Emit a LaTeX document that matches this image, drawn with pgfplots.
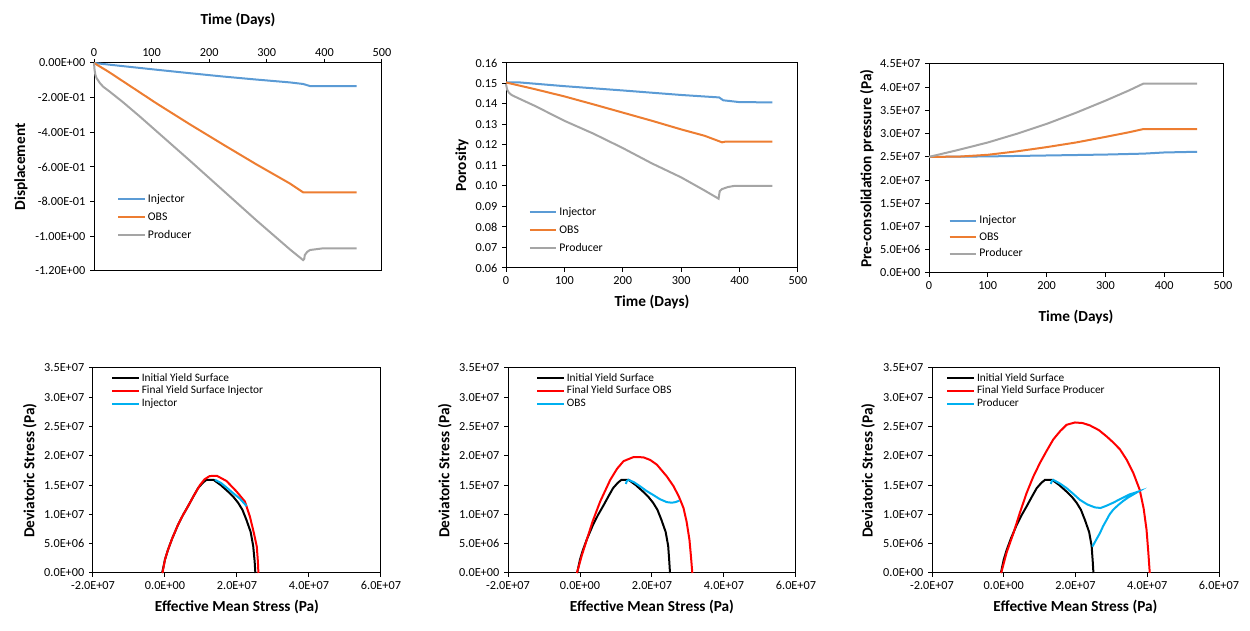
\documentclass[border=0pt]{standalone}
\usepackage{fontspec}
\setmainfont{Carlito}
\usepackage{pgfplots}
\pgfplotsset{compat=1.18}
\definecolor{cblue}{RGB}{91,155,213}
\definecolor{corange}{RGB}{237,125,49}
\definecolor{cgray}{RGB}{165,165,165}
\definecolor{cred}{RGB}{255,0,0}
\definecolor{clblue}{RGB}{0,176,240}
\pgfplotsset{
  base/.style={scale only axis, anchor=south west, axis line style={line width=0.75pt},
    tick style={black, line width=0.75pt}, major tick length=3pt, tick align=outside,
    scaled ticks=false, clip=false,
    tick label style={font=\fontsize{9.2}{11}\selectfont},
    label style={font=\fontsize{11.5}{13}\selectfont\bfseries},
    xlabel style={anchor=center}, ylabel style={anchor=center},
    legend cell align=left,
    legend image code/.code={\draw[##1] (0pt,0pt) -- (20pt,0pt);},
    every axis plot/.append style={line width=1.5pt, no marks},
  },
  toplegend/.style={legend style={draw=none, fill=none, inner sep=0pt, anchor=north west,
    font=\fontsize{8.8}{10}\selectfont,
    nodes={inner xsep=1.5pt, inner ysep=0pt, text height=7pt, text depth=2pt}, row sep=#1}},
  botlegend/.style={legend style={draw=none, fill=none, inner sep=0pt, anchor=north west,
    font=\fontsize{8.5}{10}\selectfont,
    nodes={inner xsep=1.5pt, inner ysep=0pt, text height=6.5pt, text depth=2pt}, row sep=0.9pt}},
  timeaxis/.style={xmin=0, xmax=500, xtick={0,100,200,300,400,500},
    xticklabels={0,100,200,300,400,500}},
  stressaxis/.style={xmin=-2e7, xmax=6e7, ymin=0, ymax=3.5e7,
    xtick={-2e7,0,2e7,4e7,6e7}, xticklabels={-2.0E+07,0.0E+00,2.0E+07,4.0E+07,6.0E+07},
    ytick={0,5e6,1e7,1.5e7,2e7,2.5e7,3e7,3.5e7},
    yticklabels={0.0E+00,5.0E+06,1.0E+07,1.5E+07,2.0E+07,2.5E+07,3.0E+07,3.5E+07},
    xtick pos=left, ytick pos=left,
    xlabel={Effective Mean Stress (Pa)}, ylabel={Deviatoric Stress (Pa)},
    xlabel style={at={(axis description cs:0.5,-0.166)}}},
}
\begin{document}
\begin{tikzpicture}
\useasboundingbox (0,0) rectangle (937.5pt,473.25pt);
% ---------------- Panel 1: Displacement
\begin{axis}[base, timeaxis, at={(70.5pt,270pt)}, width=216pt, height=156pt,
  ymin=-1.2, ymax=0, xtick pos=right, xticklabel pos=right, ytick pos=left,
  xticklabel style={yshift=-2pt},
  ytick={-1.2,-1.0,-0.8,-0.6,-0.4,-0.2,0},
  yticklabels={-1.20E+00,-1.00E+00,-8.00E-01,-6.00E-01,-4.00E-01,-2.00E-01,0.00E+00},
  xlabel={Time (Days)}, ylabel={Displacement},
  xlabel style={at={(axis description cs:0.5,1.207)}},
  ylabel style={at={(axis description cs:-0.2535,0.5)}},
  toplegend=4.5pt, legend style={at={(axis description cs:0.08,0.375)}}]
\addplot[cblue] coordinates {(0,0) (50,-0.018) (109,-0.039) (167,-0.059) (224,-0.078) (280,-0.095) (340,-0.112) (363,-0.121) (375,-0.133) (456,-0.133)};
\addplot[corange] coordinates {(0,0) (10,-0.02) (25,-0.05) (51,-0.107) (109,-0.234) (167,-0.355) (224,-0.47) (282,-0.585) (340,-0.695) (363,-0.746) (456,-0.746)};
\addplot[cgray] coordinates {(0,0) (1,-0.04) (2.5,-0.07) (4.6,-0.088) (10,-0.115) (16,-0.137) (28,-0.167) (51,-0.228) (80,-0.31) (109,-0.395) (167,-0.565) (224,-0.735) (282,-0.908) (340,-1.075) (363,-1.137) (365,-1.13) (366,-1.108) (370,-1.09) (375,-1.079) (398,-1.069) (456,-1.069)};
\legend{Injector,OBS,Producer}
\end{axis}
% ---------------- Panel 2: Porosity
\begin{axis}[base, timeaxis, at={(379.5pt,272.25pt)}, width=219pt, height=153.75pt,
  ymin=0.06, ymax=0.16, xtick pos=left, ytick pos=left,
  ytick={0.06,0.07,0.08,0.09,0.10,0.11,0.12,0.13,0.14,0.15,0.16},
  yticklabels={0.06,0.07,0.08,0.09,0.10,0.11,0.12,0.13,0.14,0.15,0.16},
  xlabel={Time (Days)}, ylabel={Porosity},
  xlabel style={at={(axis description cs:0.5,-0.166)}},
  ylabel style={at={(axis description cs:-0.151,0.5)}},
  toplegend=4.5pt, legend style={at={(axis description cs:0.077,0.305)}}]
\addplot[cblue] coordinates {(0,0.1506) (20,0.1506) (100,0.1487) (200,0.1466) (300,0.1444) (365,0.1432) (372,0.1418) (385,0.1414) (400,0.1409) (456,0.1408)};
\addplot[corange] coordinates {(0,0.1505) (50,0.1472) (100,0.1437) (150,0.1398) (200,0.1358) (250,0.1318) (300,0.1276) (340,0.1245) (370,0.1213) (375,0.1216) (456,0.1216)};
\addplot[cgray] coordinates {(0,0.1497) (2,0.147) (5,0.1455) (10,0.1443) (25,0.1423) (50,0.139) (100,0.1318) (150,0.1255) (200,0.1185) (250,0.111) (300,0.1042) (340,0.0978) (364,0.0938) (366,0.0975) (370,0.0985) (380,0.0995) (390,0.1) (456,0.1)};
\legend{Injector,OBS,Producer}
\end{axis}
% ---------------- Panel 3: Pre-consolidation pressure
\begin{axis}[base, timeaxis, at={(696.75pt,268.5pt)}, width=220.5pt, height=156.75pt,
  ymin=0, ymax=4.5e7, xtick pos=left, ytick pos=left,
  ytick={0,5e6,1e7,1.5e7,2e7,2.5e7,3e7,3.5e7,4e7,4.5e7},
  yticklabels={0.0E+00,5.0E+06,1.0E+07,1.5E+07,2.0E+07,2.5E+07,3.0E+07,3.5E+07,4.0E+07,4.5E+07},
  xlabel={Time (Days)}, ylabel={Pre-consolidation pressure (Pa)},
  xlabel style={at={(axis description cs:0.5,-0.2105)}},
  ylabel style={at={(axis description cs:-0.211,0.5)}},
  toplegend=3.4pt, legend style={at={(axis description cs:0.066,0.281)}}]
\addplot[cblue] coordinates {(0,25.0e6) (100,25.1e6) (200,25.3e6) (300,25.5e6) (365,25.7e6) (400,25.95e6) (456,26.1e6)};
\addplot[corange] coordinates {(0,25.0e6) (50,25.05e6) (100,25.45e6) (150,26.2e6) (200,27.1e6) (250,28.1e6) (300,29.3e6) (340,30.3e6) (365,31.0e6) (456,31.0e6)};
\addplot[cgray] coordinates {(0,25.0e6) (50,26.5e6) (100,28.1e6) (150,30.0e6) (200,32.1e6) (250,34.5e6) (300,37.1e6) (340,39.3e6) (365,40.8e6) (456,40.8e6)};
\legend{Injector,OBS,Producer}
\end{axis}
% ---------------- Panel 4: Injector stress path
\begin{axis}[base, stressaxis, at={(69.75pt,43.5pt)}, width=216pt, height=153.75pt,
  ylabel style={at={(axis description cs:-0.219,0.5)}},
  botlegend, legend style={at={(axis description cs:0.062,0.978)}}]
\addplot[black] coordinates {(-0.8e6,0) (0.0e6,2.3e6) (0.8e6,3.9e6) (2.0e6,5.9e6) (3.6e6,8.2e6) (5.0e6,9.9e6) (6.4e6,11.4e6) (8.0e6,13.2e6) (9.2e6,14.5e6) (10.5e6,15.4e6) (11.5e6,15.9e6) (13.5e6,15.9e6) (15.5e6,15.0e6) (17.5e6,13.9e6) (19.0e6,13.0e6) (20.3e6,12.0e6) (21.5e6,10.8e6) (22.6e6,9.1e6) (23.8e6,7.0e6) (24.5e6,4.6e6) (24.9e6,2.0e6) (25.1e6,0)};
\addplot[cred] coordinates {(-0.7e6,0) (0.0e6,2.3e6) (0.8e6,3.9e6) (2.0e6,5.9e6) (3.6e6,8.2e6) (5.0e6,9.9e6) (6.4e6,11.4e6) (8.0e6,13.2e6) (9.7e6,15.0e6) (11.0e6,16.0e6) (12.4e6,16.55e6) (14.4e6,16.6e6) (17.1e6,15.7e6) (19.9e6,13.9e6) (22.2e6,12.2e6) (23.6e6,9.6e6) (24.7e6,6.8e6) (25.5e6,4.5e6) (25.8e6,2.0e6) (25.95e6,0)};
\addplot[clblue] coordinates {(13.9e6,15.9e6) (15.5e6,15.4e6) (17.1e6,14.6e6) (19.0e6,13.6e6) (20.8e6,12.7e6) (22.7e6,11.4e6)};
\legend{Initial Yield Surface,Final Yield Surface Injector,Injector}
\end{axis}
% ---------------- Panel 5: OBS stress path
\begin{axis}[base, stressaxis, at={(381pt,43.5pt)}, width=216pt, height=153.75pt,
  ylabel style={at={(axis description cs:-0.219,0.5)}},
  botlegend, legend style={at={(axis description cs:0.097,0.978)}}]
\addplot[black] coordinates {(-0.8e6,0) (0.0e6,2.3e6) (0.8e6,3.9e6) (2.0e6,5.9e6) (3.6e6,8.2e6) (5.0e6,9.9e6) (6.4e6,11.4e6) (8.0e6,13.2e6) (9.2e6,14.5e6) (10.5e6,15.4e6) (11.5e6,15.9e6) (13.5e6,15.9e6) (15.5e6,15.0e6) (17.5e6,13.9e6) (19.0e6,13.0e6) (20.3e6,12.0e6) (21.5e6,10.8e6) (22.6e6,9.1e6) (23.8e6,7.0e6) (24.5e6,4.6e6) (24.8e6,2.0e6) (25.0e6,0)};
\addplot[cred] coordinates {(-0.85e6,0) (0.5e6,3.0e6) (1.9e6,5.7e6) (3.5e6,8.8e6) (5.6e6,12.2e6) (8.4e6,15.9e6) (10.3e6,17.8e6) (12.1e6,19.1e6) (14.9e6,19.8e6) (17.6e6,19.75e6) (19.5e6,19.3e6) (21.35e6,18.5e6) (24.1e6,16.5e6) (26.0e6,14.8e6) (27.5e6,13.0e6) (28.75e6,11.1e6) (29.6e6,8.8e6) (30.4e6,5.7e6) (30.8e6,3.0e6) (31.2e6,0)};
\addplot[clblue] coordinates {(12.75e6,15.2e6) (13.0e6,15.7e6) (13.5e6,15.9e6) (15.0e6,15.5e6) (16.7e6,14.8e6) (18.5e6,14.0e6) (20.4e6,13.3e6) (22.2e6,12.6e6) (24.1e6,12.1e6) (25.5e6,12.0e6) (26.5e6,12.1e6) (27.6e6,12.35e6)};
\legend{Initial Yield Surface,Final Yield Surface OBS,OBS}
\end{axis}
% ---------------- Panel 6: Producer stress path
\begin{axis}[base, stressaxis, at={(699pt,43.5pt)}, width=215.25pt, height=153.75pt,
  ylabel style={at={(axis description cs:-0.223,0.5)}},
  botlegend, legend style={at={(axis description cs:0.049,0.978)}}]
\addplot[black] coordinates {(-0.8e6,0) (0.0e6,2.3e6) (0.8e6,3.9e6) (2.0e6,5.9e6) (3.6e6,8.2e6) (5.0e6,9.9e6) (6.4e6,11.4e6) (8.0e6,13.2e6) (9.2e6,14.5e6) (10.5e6,15.4e6) (11.5e6,15.9e6) (13.5e6,15.9e6) (15.5e6,15.0e6) (17.5e6,13.9e6) (19.0e6,13.0e6) (20.3e6,12.0e6) (21.5e6,10.8e6) (22.6e6,9.1e6) (23.8e6,7.0e6) (24.5e6,4.6e6) (24.8e6,2.0e6) (25.0e6,0)};
\addplot[cred] coordinates {(-0.72e6,0) (0.8e6,3.5e6) (2.7e6,6.8e6) (4.5e6,10.3e6) (6.4e6,13.7e6) (8.2e6,16.4e6) (10.1e6,18.8e6) (12.0e6,20.9e6) (13.8e6,22.8e6) (15.7e6,24.2e6) (17.5e6,25.3e6) (19.85e6,25.7e6) (22.0e6,25.6e6) (24.0e6,25.2e6) (26.5e6,24.4e6) (28.7e6,23.3e6) (30.5e6,22.3e6) (32.4e6,21.1e6) (34.3e6,19.3e6) (36.1e6,17.1e6) (37.9e6,14.2e6) (39.0e6,11.0e6) (39.8e6,7.4e6) (40.3e6,3.5e6) (40.7e6,0)};
\addplot[clblue] coordinates {(13.1e6,15.2e6) (13.4e6,15.7e6) (13.8e6,15.9e6) (15.6e6,15.3e6) (17.5e6,14.5e6) (19.4e6,13.5e6) (21.2e6,12.5e6) (23.3e6,11.7e6) (25.4e6,11.2e6) (27.0e6,11.1e6) (28.7e6,11.5e6) (30.5e6,12.0e6) (32.4e6,12.6e6) (35.0e6,13.4e6) (37.5e6,13.9e6) (36.1e6,13.4e6) (34.7e6,12.9e6) (33.3e6,12.3e6) (31.9e6,11.6e6) (30.5e6,10.8e6) (29.5e6,10.0e6) (28.7e6,9.1e6) (27.7e6,8.0e6) (26.8e6,6.8e6) (25.7e6,5.6e6) (24.7e6,4.5e6)};
\legend{Initial Yield Surface,Final Yield Surface Producer,Producer}
\end{axis}
\end{tikzpicture}
\end{document}
